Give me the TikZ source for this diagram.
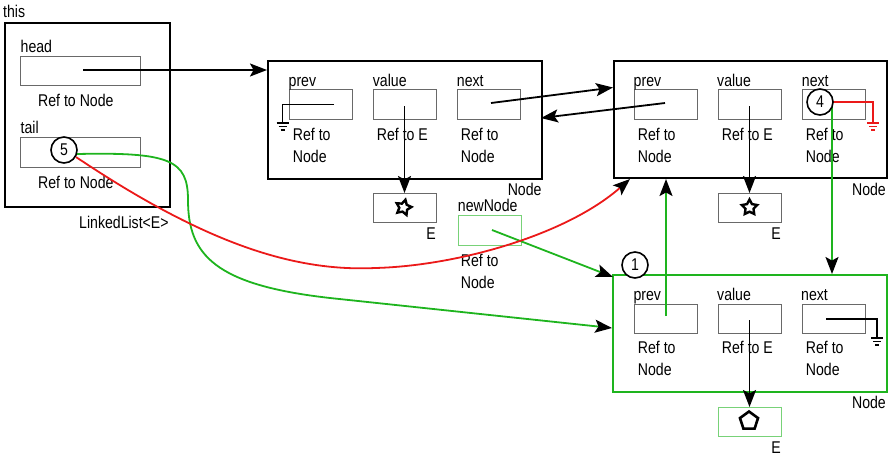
\documentclass[tikz,border=0pt]{standalone}
\usepackage{fontspec}
\setmainfont{Liberation Sans}[FakeStretch=0.83]
\usetikzlibrary{arrows.meta,shapes.geometric}
\definecolor{gline}{RGB}{30,180,30}
\definecolor{gbox}{RGB}{120,210,120}
\definecolor{rline}{RGB}{235,25,25}
\definecolor{fgray}{RGB}{105,105,105}
\tikzset{
  outerbox/.style={draw=black, line width=2pt, anchor=north west, inner sep=0, fill=none},
  greenbox/.style={draw=gline, line width=2pt, anchor=north west, inner sep=0},
  fieldbox/.style={draw=fgray, line width=1.1pt, anchor=north west, inner sep=0, minimum width=63pt, minimum height=30pt},
  lightbox/.style={draw=gbox, line width=1.1pt, anchor=north west, inner sep=0, minimum width=63pt, minimum height=30pt},
  lbl/.style={anchor=base west, inner sep=0, font=\fontsize{17}{22}\selectfont},
  lblr/.style={anchor=base east, inner sep=0, font=\fontsize{17}{22}\selectfont},
  arr/.style={line width=1.8pt, -{Stealth[length=17pt,width=13pt,inset=3.5pt,color=black]}},
  numcirc/.style={circle, draw=black, fill=white, line width=1.6pt, minimum size=26pt, inner sep=0, font=\fontsize{17}{20}\selectfont},
  glyph/.style={draw=black, fill=white, inner sep=0, line width=2.4pt},
  gnd/.pic={
    \draw[line width=2pt] (-6,0) -- (6,0);
    \draw[line width=1.6pt] (-4,3.5) -- (4,3.5);
    \draw[line width=1.4pt] (-2,7) -- (2,7);
  }
}
\begin{document}
\begin{tikzpicture}[x=1pt,y=-1pt]
\useasboundingbox (0,0) rectangle (890,459);

% ---------- LinkedList ----------
\node[outerbox, minimum width=165pt, minimum height=184pt] (ll) at (4,22) {};
\node[fieldbox, minimum width=120pt, minimum height=29pt] (head) at (20,56) {};
\node[fieldbox, minimum width=120pt, minimum height=30pt] (tail) at (20,137) {};
\node[lbl] (tthis) at (3,17) {this};
\node[lbl] (thead) at (20.5,52) {head};
\node[lbl] (theadref) at (38,106) {Ref to Node};
\node[lbl] (ttail) at (20.5,133) {tail};
\node[lbl] (ttailref) at (38,188) {Ref to Node};
\node[lbl] (tll) at (79,228) {LinkedList<E>};

% ---------- Node 1 ----------
\node[outerbox, minimum width=274pt, minimum height=118pt] (n1) at (267,60) {};
\node[fieldbox] (n1p) at (289,89) {};
\node[fieldbox] (n1v) at (373,89) {};
\node[fieldbox] (n1n) at (457,89) {};
\node[lbl] (t1a) at (288.5,86) {prev};
\node[lbl] (t1b) at (372.7,86) {value};
\node[lbl] (t1c) at (456.7,86) {next};
\node[lbl] (t1d) at (292.7,140) {Ref to};
\node[lbl] (t1e) at (292.7,162) {Node};
\node[lbl] (t1f) at (376.7,140) {Ref to E};
\node[lbl] (t1g) at (460.7,140) {Ref to};
\node[lbl] (t1h) at (460.7,162) {Node};
\node[lblr] (t1i) at (541.7,195) {Node};
\node[fieldbox, minimum height=29pt] (s1box) at (373,193) {};
\node[lblr] (t1j) at (436,239) {E};
\node[glyph, star, star points=5, star point ratio=1.9, minimum size=16pt, rotate=-14] (star1) at (403.5,207.5) {};

% ---------- newNode ----------
\node[lightbox] (nn) at (458,215) {};
\node[lbl] (tnn) at (457.7,211.7) {newNode};
\node[lbl] (tnna) at (460.7,266.7) {Ref to};
\node[lbl] (tnnb) at (460.7,288.7) {Node};

% ---------- Node 2 ----------
\node[outerbox, minimum width=273pt, minimum height=117pt] (n2) at (613,60) {};
\node[fieldbox] (n2p) at (634,89) {};
\node[fieldbox] (n2v) at (718,89) {};
\node[fieldbox] (n2n) at (802,89) {};
\node[lbl] (t2a) at (633.5,86) {prev};
\node[lbl] (t2b) at (717,86) {value};
\node[lbl] (t2c) at (801.7,86) {next};
\node[lbl] (t2d) at (637.7,140) {Ref to};
\node[lbl] (t2e) at (637.7,162) {Node};
\node[lbl] (t2f) at (721.7,140) {Ref to E};
\node[lbl] (t2g) at (805.7,140) {Ref to};
\node[lbl] (t2h) at (805.7,162) {Node};
\node[lblr] (t2i) at (886,195) {Node};
\node[fieldbox, minimum height=29pt] (s2box) at (718,193) {};
\node[lblr] (t2j) at (781,239) {E};
\node[glyph, star, star points=5, star point ratio=1.9, minimum size=16pt] (star2) at (749.5,207.5) {};

% ---------- new Node (green) ----------
\node[greenbox, minimum width=274pt, minimum height=117pt] (n3) at (612,274) {};
\node[fieldbox, minimum height=29pt] (n3p) at (634,304) {};
\node[fieldbox, minimum height=29pt] (n3v) at (718,304) {};
\node[fieldbox, minimum height=29pt] (n3n) at (802,304) {};
\node[lbl] (t3a) at (633.3,300.7) {prev};
\node[lbl] (t3b) at (717,300.7) {value};
\node[lbl] (t3c) at (801,300.7) {next};
\node[lbl] (t3d) at (637.7,353) {Ref to};
\node[lbl] (t3e) at (637.7,375) {Node};
\node[lbl] (t3f) at (721.7,353) {Ref to E};
\node[lbl] (t3g) at (805.7,353) {Ref to};
\node[lbl] (t3h) at (805.7,375) {Node};
\node[lblr] (t3i) at (886,408) {Node};
\node[lightbox, minimum height=29pt] (pbox) at (718,407) {};
\node[lblr] (t3j) at (781,453) {E};
\node[glyph, regular polygon, regular polygon sides=5, minimum size=19pt, line width=2.6pt] (pent) at (749,421) {};

% ---------- coordinates ----------
\coordinate (hs) at (83,70);
\coordinate (n1ns) at (491,103);
\coordinate (n2pin) at (613,87.5);
\coordinate (n2ps) at (665,103);
\coordinate (n1pin) at (541,118);
\coordinate (v1s) at (404.5,106);
\coordinate (v2s) at (749.5,106);
\coordinate (v3s) at (749.5,320);
\coordinate (nns) at (492,230);
\coordinate (nnin) at (613,277);
\coordinate (n3ps) at (666,316);
\coordinate (c4s) at (832,103);
\coordinate (c5g) at (77,154);
\coordinate (c5r) at (76,157);
\coordinate (gin) at (612,328);
\coordinate (rin) at (630,179);
\coordinate (g1a) at (334,104.3);
\coordinate (g1b) at (282.7,104.3);
\coordinate (g1c) at (282.7,123);
\coordinate (g2a) at (833,102);
\coordinate (g2b) at (873,102);
\coordinate (g2c) at (873,123);
\coordinate (g3a) at (826,319);
\coordinate (g3b) at (877,319);
\coordinate (g3c) at (877,338);

% ---------- ground lines ----------
\draw[line width=1.5pt] (g1a) -- (g1b) -- (g1c);
\pic at (g1c) {gnd};
\draw[line width=1.5pt] (g3a) -- (g3b) -- (g3c);
\pic at (g3c) {gnd};
\draw[line width=1.5pt, rline] (g2a) -- (g2b) -- (g2c);
\pic[rline] at (g2c) {gnd};

% ---------- black connectors ----------
\draw[arr] (hs) -- (hs -| n1.west);
\draw[arr] (n1ns) -- (n2pin);
\draw[arr] (n2ps) -- (n1pin);
\draw[arr] (v1s) -- (v1s |- s1box.north);
\draw[arr] (v2s) -- (v2s |- s2box.north);
\draw[arr] (v3s) -- (v3s |- pbox.north);

% ---------- green connectors ----------
\draw[arr, gline] (nns) -- (nnin);
\draw[arr, gline] (n3ps) -- (n3ps |- n2.south);
\draw[arr, gline] (c4s) -- (c4s |- n3.north);
\draw[arr, gline] (c5g) .. controls (170,152) and (188,160) .. (188,200)
   .. controls (188,255) and (215,285) .. (330,298) -- (gin);

% ---------- red connector ----------
\draw[arr, rline] (c5r) .. controls (200,240) and (290,272) .. (375,268)
   .. controls (455,266) and (565,236) .. (rin);

% ---------- numbered circles ----------
\node[numcirc] (c5) at (64,150) {5};
\node[numcirc] (c4) at (820,102) {4};
\node[numcirc] (c1) at (635,265) {1};
\end{tikzpicture}
\end{document}
